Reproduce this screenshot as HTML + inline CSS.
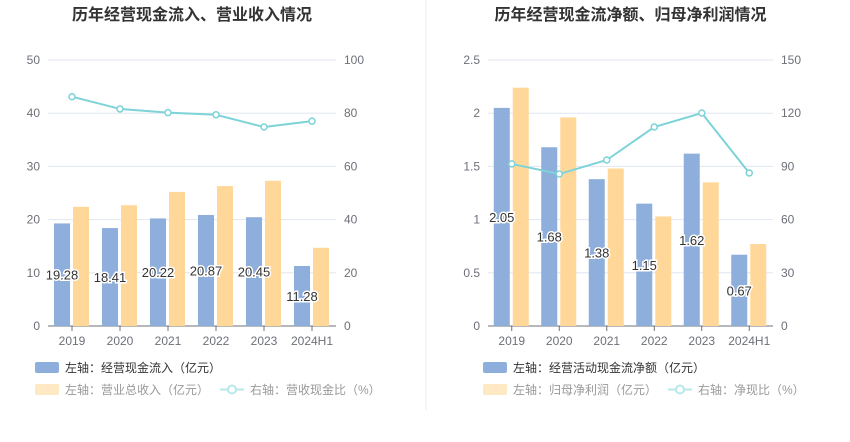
<!DOCTYPE html>
<html><head><meta charset="utf-8"><style>
body{margin:0;background:#fff;font-family:"Liberation Sans","Noto Sans CJK SC",sans-serif;}
svg text{font-family:"Liberation Sans","Noto Sans CJK SC",sans-serif;}
</style></head><body>
<svg id="c" width="850" height="437" xmlns="http://www.w3.org/2000/svg">
<line x1="426" y1="0" x2="426" y2="410" stroke="#eee"/>
</svg>
<script>
const categories=["2019","2020","2021","2022","2023","2024H1"];
const leftInflow=[19.28,18.41,20.22,20.87,20.45,11.28];
const leftRevenue=[22.4,22.7,25.2,26.3,27.3,14.7];
const leftRatio=[86.2,81.6,80.2,79.4,74.8,77.0];
const rightOpCash=[2.05,1.68,1.38,1.15,1.62,0.67];
const rightProfit=[2.24,1.96,1.48,1.03,1.35,0.77];
const rightRatio=[91.4,85.7,93.6,112.2,120.1,86.3];
const leftTicksL=["0","10","20","30","40","50"];
const leftTicksR=["0","20","40","60","80","100"];
const rightTicksL=["0","0.5","1","1.5","2","2.5"];
const rightTicksR=["0","30","60","90","120","150"];
const NS="http://www.w3.org/2000/svg";
const svg=document.getElementById('c');
function mk(tag,attrs,parent){const e=document.createElementNS(NS,tag);for(const k in attrs)e.setAttribute(k,attrs[k]);(parent||svg).appendChild(e);return e;}
function chart(o){
  const g=mk('g',{});
  
  
  const x0=o.x0,x1=o.x1,yTop=60,yBot=326;
  const cw=(x1-x0)/categories.length;
  const yL=v=>yBot-v/o.maxL*(yBot-yTop);
  const yR=v=>yBot-v/o.maxR*(yBot-yTop);
  const xc=i=>x0+cw*(i+0.5);
  const t=mk('text',{x:(x0+x1)/2,y:20,'text-anchor':'middle','font-size':16,'font-weight':'bold',fill:'#333'},g);
  t.textContent=o.title;
  
  
  o.ticksL.forEach((s,i)=>{
    const y=yBot-i*(yBot-yTop)/5;
    if(i>0){const l=mk('line',{x1:x0,x2:x1,y1:y,y2:y,stroke:'#e0e6f1'},g);
      
      }
    const a=mk('text',{x:x0-8,y:y+4,'text-anchor':'end','font-size':12,fill:'#6e7079'},g);a.textContent=s;
    
    
    const b=mk('text',{x:x1+8,y:y+4,'text-anchor':'start','font-size':12,fill:'#6e7079'},g);b.textContent=o.ticksR[i];
    
    
  });
  const ax=mk('line',{x1:x0,x2:x1,y1:yBot,y2:yBot,stroke:'#6e7079'},g);
  
  
  categories.forEach((c,i)=>{
    const tk=mk('line',{x1:xc(i),x2:xc(i),y1:yBot,y2:yBot+5,stroke:'#6e7079'},g);
    
    
    const tx=mk('text',{x:xc(i),y:yBot+19,'text-anchor':'middle','font-size':12,fill:'#6e7079'},g);tx.textContent=c;
    
    
    const b1=mk('rect',{x:xc(i)-18,y:yL(o.b1[i]),width:16,height:yBot-yL(o.b1[i]),fill:'#8eaedb'},g);
    
    
    const b2=mk('rect',{x:xc(i)+1,y:yL(o.b2[i]),width:16,height:yBot-yL(o.b2[i]),fill:'#ffd899'},g);
    
    
  });
  const pts=o.line.map((v,i)=>xc(i)+','+yR(v)).join(' ');
  const pl=mk('polyline',{points:pts,fill:'none',stroke:'#7dd3d8','stroke-width':2},g);
  
  
  o.line.forEach((v,i)=>{
    const p=mk('circle',{cx:xc(i),cy:yR(v),r:3,fill:'#fff',stroke:'#7dd3d8','stroke-width':1.5},g);
    
    
  });
  o.b1.forEach((v,i)=>{
    const l=mk('text',{x:xc(i)-10,y:(yL(v)+yBot)/2+5,'text-anchor':'middle','font-size':13,fill:'#333',stroke:'#fff','stroke-width':3,'paint-order':'stroke'},g);
    l.textContent=v.toFixed(2);
    
    
  });
  const lx=o.legX;
  const r1=mk('rect',{x:lx,y:362,width:24,height:11,rx:2,fill:'#8eaedb'},g);
  
  
  const t1=mk('text',{x:lx+30,y:372,'font-size':12,fill:'#333'},g);t1.textContent=o.leg[0];
  
  
  const r2=mk('rect',{x:lx,y:384,width:24,height:11,rx:2,fill:'#ffe8c4'},g);
  
  
  const t2=mk('text',{x:lx+30,y:394,'font-size':12,fill:'#999'},g);t2.textContent=o.leg[1];
  
  
  const l3=mk('line',{x1:o.leg3X,x2:o.leg3X+24,y1:389.5,y2:389.5,stroke:'#b8e8ea','stroke-width':2},g);
  
  
  const c3=mk('circle',{cx:o.leg3X+12,cy:389.5,r:4,fill:'#fff',stroke:'#b8e8ea','stroke-width':2},g);
  
  
  const t3=mk('text',{x:o.leg3X+30,y:394,'font-size':12,fill:'#999'},g);t3.textContent=o.leg[2];
  
  
}
chart({name:'left-chart',title:'历年经营现金流入、营业收入情况',x0:48,x1:336,maxL:50,maxR:100,ticksL:leftTicksL,ticksR:leftTicksR,b1:leftInflow,b2:leftRevenue,line:leftRatio,legX:35,leg3X:220,leg:['左轴：经营现金流入（亿元）','左轴：营业总收入（亿元）','右轴：营收现金比（%）']});
chart({name:'right-chart',title:'历年经营现金流净额、归母净利润情况',x0:488,x1:773,maxL:2.5,maxR:150,ticksL:rightTicksL,ticksR:rightTicksR,b1:rightOpCash,b2:rightProfit,line:rightRatio,legX:483,leg3X:668,leg:['左轴：经营活动现金流净额（亿元）','左轴：归母净利润（亿元）','右轴：净现比（%）']});
</script>
</body></html>
